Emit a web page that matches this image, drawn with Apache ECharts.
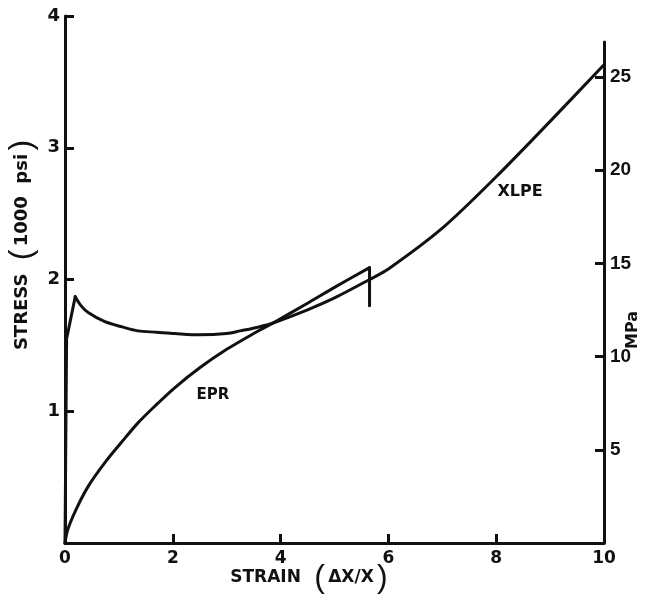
<!DOCTYPE html>
<html>
<head>
<meta charset="utf-8">
<script src="https://cdn.jsdelivr.net/npm/echarts@6/dist/echarts.min.js"></script>
<style>
  html, body { margin: 0; padding: 0; background: #fff; }
  #chart { width: 667px; height: 594px; }
</style>
</head>
<body>
<div id="chart"></div>
<script>
// Strain (ΔX/X) and stress (1000 psi) for the two insulation compounds
const eprStrain  = [0, 0.05, 0.2, 0.43, 0.74, 1.06, 1.35, 1.67, 2.04, 2.5, 3.0, 3.5, 3.86, 4.5, 5.0, 5.65];
const eprStress  = [0, 0.10, 0.25, 0.43, 0.61, 0.77, 0.91, 1.04, 1.18, 1.33, 1.47, 1.59, 1.67, 1.82, 1.94, 2.09];
// EPR rupture: stress falls off at break
const eprBreakStrain = [5.65, 5.65];
const eprBreakStress = [2.09, 1.80];

// XLPE: elastic rise to the yield peak, then drawing and strain hardening
const xlpeRiseStrain = [0, 0.03, 0.19];
const xlpeRiseStress = [0, 1.55, 1.87];
const xlpeStrain = [0.19, 0.3, 0.43, 0.74, 1.06, 1.35, 1.7, 2.04, 2.5, 3.0, 3.25, 3.6, 3.86, 4.5, 5.0, 5.65, 6.0, 7.0, 8.0, 9.0, 10.0];
const xlpeStress = [1.87, 1.80, 1.75, 1.68, 1.64, 1.61, 1.60, 1.59, 1.58, 1.59, 1.61, 1.64, 1.67, 1.77, 1.86, 2.00, 2.08, 2.39, 2.78, 3.20, 3.63];

// Tick labels
const strainTicks = [0, 2, 4, 6, 8, 10];
const psiTicks    = [1, 2, 3, 4];
const mpaTicks    = [5, 10, 15, 20, 25];

const pairs = (xs, ys) => xs.map((x, i) => [x, ys[i]]);

const FONT = '"DejaVu Sans", "Liberation Sans", sans-serif';
const PAREN_FONT = '"Liberation Sans", sans-serif';
const INK = '#111';

const axisLine = { show: true, onZero: false, lineStyle: { color: INK, width: 3 } };
const axisTick = { show: true, inside: true, length: 9, lineStyle: { color: INK, width: 3 } };
const labelStyle = { color: INK, fontFamily: FONT, fontWeight: 'bold', fontSize: 17 };
const curveStyle = { color: INK, width: 3, join: 'round', cap: 'round' };

function curve(name, xs, ys, smooth) {
  return {
    name, type: 'line', xAxisIndex: 0, yAxisIndex: 0,
    data: pairs(xs, ys), symbol: 'none', smooth,
    lineStyle: curveStyle
  };
}

const titleRich = {
  t: { fontFamily: FONT, fontWeight: 'bold', fontSize: 18, fill: INK },
  p: { fontFamily: PAREN_FONT, fontWeight: 'normal', fontSize: 32, fill: INK }
};

const chart = echarts.init(document.getElementById('chart'), null, { renderer: 'canvas' });

chart.setOption({
  animation: false,
  backgroundColor: '#fff',
  grid: [
    { left: 65, right: 63, top: 16, bottom: 51 },
    { left: 65, right: 63, top: 42, bottom: 51 }
  ],
  xAxis: [
    {
      type: 'value', gridIndex: 0, min: 0, max: 10, interval: 2,
      axisLine, axisTick: Object.assign({ customValues: strainTicks }, axisTick),
      axisLabel: Object.assign({ margin: 7, customValues: strainTicks }, labelStyle),
      splitLine: { show: false }
    },
    { type: 'value', gridIndex: 1, min: 0, max: 10, show: false }
  ],
  yAxis: [
    {
      type: 'value', gridIndex: 0, position: 'left', min: 0, max: 4, interval: 1,
      axisLine, axisTick: Object.assign({ customValues: psiTicks }, axisTick),
      axisLabel: Object.assign({ margin: 5, customValues: psiTicks }, labelStyle, { fontSize: 18 }),
      splitLine: { show: false }
    },
    {
      type: 'value', gridIndex: 1, position: 'right', min: 0, max: 26.88, interval: 5,
      axisLine, axisTick: Object.assign({ customValues: mpaTicks }, axisTick),
      axisLabel: Object.assign({ margin: 6, customValues: mpaTicks }, labelStyle,
        { fontFamily: PAREN_FONT, fontSize: 19 }),
      splitLine: { show: false }
    }
  ],
  series: [
    curve('EPR', eprStrain, eprStress, 0.3),
    curve('EPR break', eprBreakStrain, eprBreakStress, false),
    curve('XLPE yield', xlpeRiseStrain, xlpeRiseStress, false),
    curve('XLPE', xlpeStrain, xlpeStress, 0.3)
  ],
  graphic: [
    {
      type: 'text', x: 22, y: 245, rotation: Math.PI / 2,
      style: {
        text: '{t|STRESS}    {p|(} {t|1000  psi} {p|)}',
        align: 'center', verticalAlign: 'middle',
        rich: titleRich
      }
    },
    {
      type: 'text', x: 309, y: 578,
      style: {
        text: '{t|STRAIN}    {p|(} {t|ΔX/X} {p|)}',
        align: 'center', verticalAlign: 'middle',
        rich: {
          t: Object.assign({}, titleRich.t, { fontSize: 17 }),
          p: titleRich.p
        }
      }
    },
    {
      type: 'text', x: 633, y: 330, rotation: Math.PI / 2,
      style: {
        text: 'MPa', align: 'center', verticalAlign: 'middle',
        fontFamily: FONT, fontWeight: 'bold', fontSize: 16, fill: INK
      }
    },
    {
      type: 'text', x: 213, y: 395,
      style: {
        text: 'EPR', align: 'center', verticalAlign: 'middle',
        fontFamily: FONT, fontWeight: 'bold', fontSize: 15, fill: INK
      }
    },
    {
      type: 'text', x: 520, y: 192,
      style: {
        text: 'XLPE', align: 'center', verticalAlign: 'middle',
        fontFamily: FONT, fontWeight: 'bold', fontSize: 16, fill: INK
      }
    }
  ]
});
</script>
</body>
</html>
